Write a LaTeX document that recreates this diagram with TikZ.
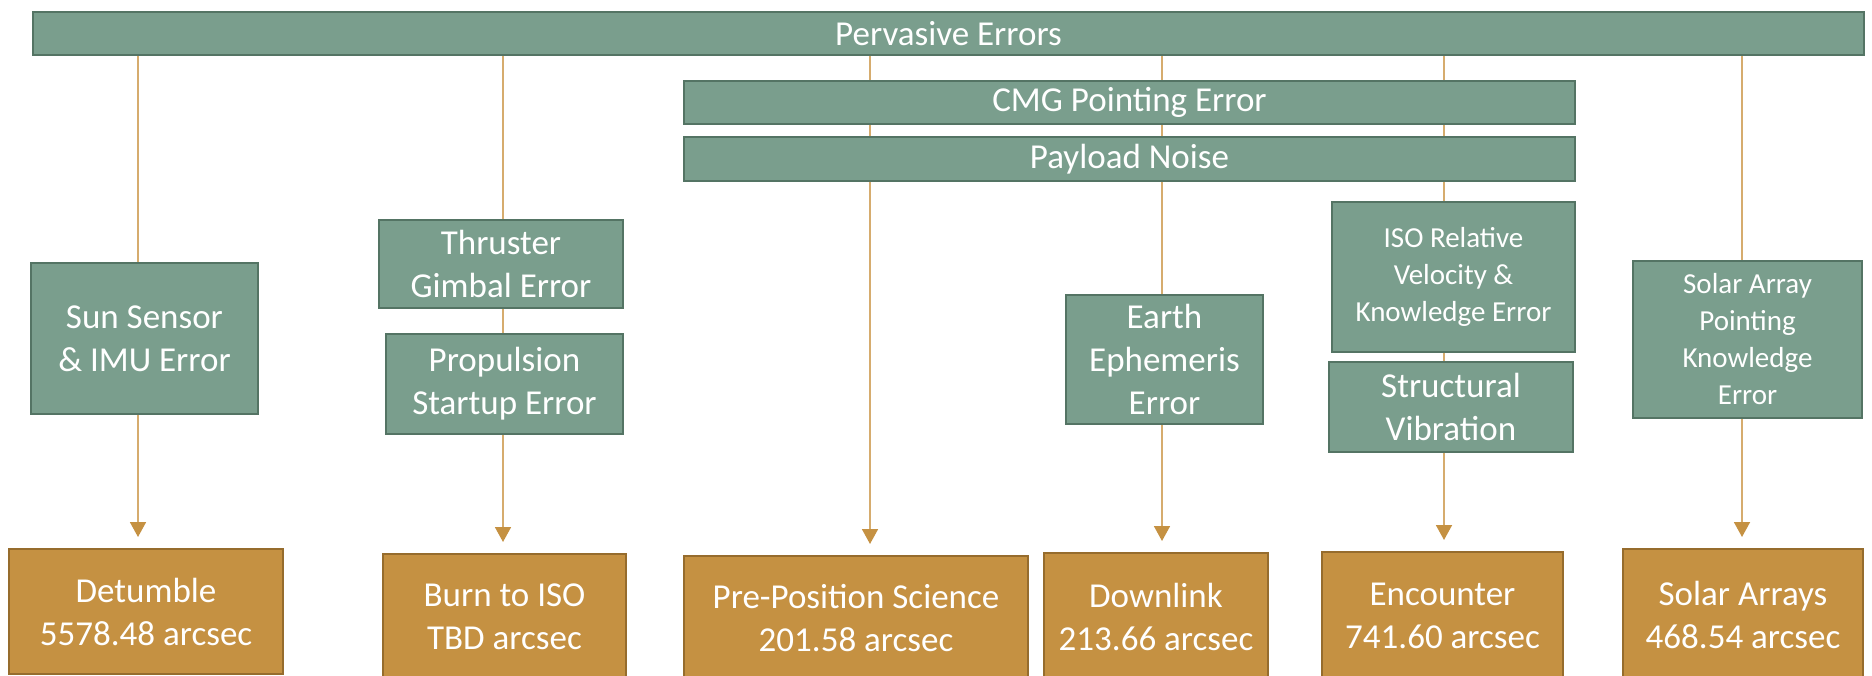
\documentclass[tikz,border=0pt]{standalone}
\usepackage{fontspec}
\setmainfont{Carlito}
\usetikzlibrary{arrows.meta,positioning,calc}
\definecolor{ptgreen}{RGB}{122,158,141}
\definecolor{ptgreenline}{RGB}{84,116,100}
\definecolor{ptgold}{RGB}{197,145,66}
\definecolor{ptgoldline}{RGB}{150,108,45}
\definecolor{ptwire}{RGB}{214,172,110}
\pgfdeclarelayer{background}
\pgfsetlayers{background,main}
\tikzset{
  pterr/.style={
    rectangle, draw=ptgreenline, fill=ptgreen, line width=2pt,
    text=white, align=center, inner sep=0pt,
    font=\fontsize{35}{43}\selectfont
  },
  pterrsmall/.style={pterr,font=\fontsize{29}{37}\selectfont},
  ptres/.style={
    rectangle, draw=ptgoldline, fill=ptgold, line width=2pt,
    text=white, align=center, inner sep=0pt,
    font=\fontsize{35}{43}\selectfont
  },
  ptedge/.style={draw=ptwire,line width=1.8pt,
    -{Triangle[width=16pt,length=15pt,color=ptgold]},shorten >=11pt}
}

\begin{document}
\begin{tikzpicture}[x=1pt,y=-1pt]
  \useasboundingbox (0,0) rectangle (1872,676);
  \clip (0,0) rectangle (1872,676);
  % columns of the error chains
  \coordinate (c1) at (138,0);
  \coordinate (c2) at (503,0);
  \coordinate (c3) at (870,0);
  \coordinate (c4) at (1162,0);
  \coordinate (c5) at (1444,0);
  \coordinate (c6) at (1742,0);

  % Shared error sources
  \node[pterr,minimum width=1831pt,minimum height=43pt] (pe) at (948.5,33.5) {Pervasive Errors};
  \node[pterr,minimum width=891pt,minimum height=43pt] (cmg) at (1129.5,102.5) {CMG Pointing Error};
  \node[pterr,minimum width=891pt,minimum height=44pt] (pn) at (1129.5,159) {Payload Noise};

  % Error sources per phase
  \node[pterr,minimum width=227pt,minimum height=151pt] (sun) at (144.5,338.5) {Sun Sensor\\\& IMU Error};
  \node[pterr,minimum width=244pt,minimum height=88pt] (thr) at (501,264) {Thruster\\Gimbal Error};
  \node[pterr,minimum width=237pt,minimum height=100pt] (prop) at (504.5,384) {Propulsion\\Startup Error};
  \node[pterr,minimum width=197pt,minimum height=129pt] (eph) at (1164.5,359.5) {Earth\\Ephemeris\\Error};
  \node[pterrsmall,minimum width=243pt,minimum height=150pt] (iso) at (1453.5,277) {ISO Relative\\Velocity \&\\Knowledge Error};
  \node[pterr,minimum width=244pt,minimum height=90pt] (vib) at (1451,407) {Structural\\Vibration};
  \node[pterrsmall,minimum width=229pt,minimum height=157pt] (sap) at (1747.5,339.5) {Solar Array\\Pointing\\Knowledge\\Error};

  % Mission phases
  \node[ptres,minimum width=274pt,minimum height=125pt] (det) at (146,611.5) {Detumble\\5578.48 arcsec};
  \node[ptres,minimum width=243pt,minimum height=126pt] (burn) at (504.5,617) {Burn to ISO\\TBD arcsec};
  \node[ptres,minimum width=344pt,minimum height=124pt] (pps) at (856,618) {Pre-Position Science\\201.58 arcsec};
  \node[ptres,minimum width=224pt,minimum height=127pt] (dl) at (1156,616.5) {Downlink\\213.66 arcsec};
  \node[ptres,minimum width=241pt,minimum height=128pt] (enc) at (1442.5,616) {Encounter\\741.60 arcsec};
  \node[ptres,minimum width=240pt,minimum height=131pt] (sa) at (1743,614.5) {Solar Arrays\\468.54 arcsec};

  \begin{pgfonlayer}{background}
    \draw[ptedge] (pe.south -| c1) -- (det.north -| c1);
    \draw[ptedge] (pe.south -| c2) -- (burn.north -| c2);
    \draw[ptedge] (pe.south -| c3) -- (pps.north -| c3);
    \draw[ptedge] (pe.south -| c4) -- (dl.north -| c4);
    \draw[ptedge] (pe.south -| c5) -- (enc.north -| c5);
    \draw[ptedge] (pe.south -| c6) -- (sa.north -| c6);
  \end{pgfonlayer}
\end{tikzpicture}
\end{document}
